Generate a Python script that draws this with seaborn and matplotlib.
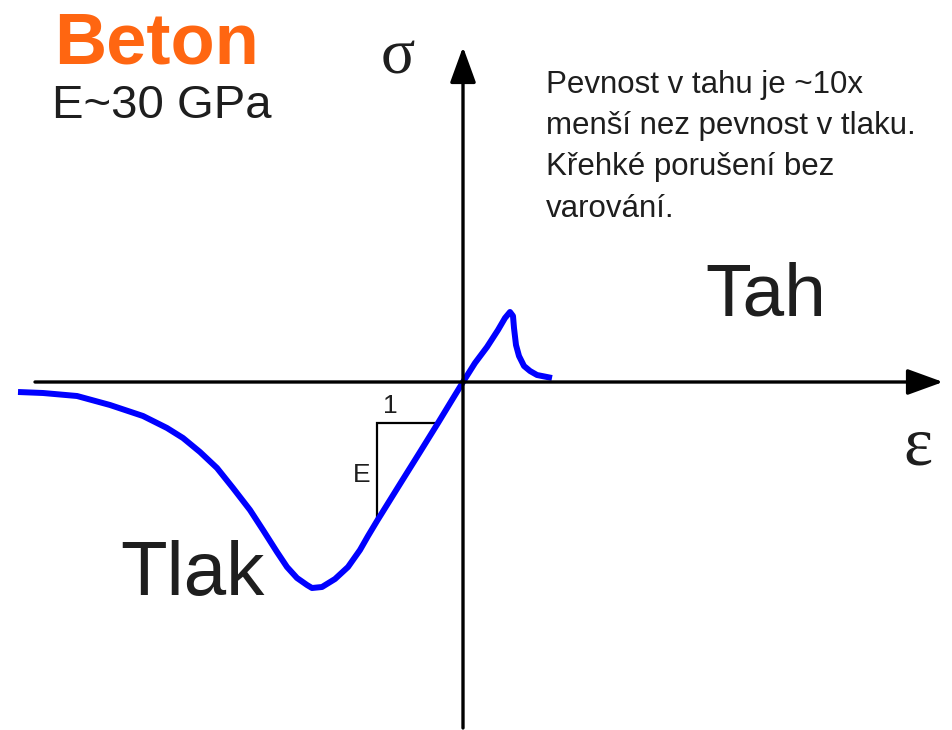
import numpy as np
import pandas as pd
import seaborn as sns
import matplotlib.pyplot as plt

# stress-strain curve of concrete (arbitrary units, origin at axes cross)
eps = [-4.45, -4.20, -3.86, -3.53, -3.20, -2.96, -2.80, -2.63, -2.46, -2.30,
       -2.13, -2.00, -1.86, -1.76, -1.66, -1.56, -1.51, -1.41, -1.28, -1.15,
       -1.03, -0.95, -0.86, -0.63, -0.43, -0.25, -0.11, 0.0, 0.12, 0.24, 0.35,
       0.42, 0.47, 0.50, 0.51, 0.53, 0.56, 0.61, 0.67, 0.74, 0.89]
sigma = [-0.10, -0.11, -0.14, -0.23, -0.34, -0.46, -0.56, -0.70, -0.86, -1.06,
         -1.28, -1.48, -1.70, -1.85, -1.96, -2.03, -2.06, -2.05, -1.97, -1.85,
         -1.68, -1.54, -1.39, -1.02, -0.70, -0.41, -0.18, 0.0, 0.19, 0.35, 0.52,
         0.64, 0.70, 0.66, 0.54, 0.37, 0.26, 0.16, 0.11, 0.07, 0.04]

# slope triangle (1 : E)
tri_x = [-0.25, -0.86, -0.86]
tri_y = [-0.41, -0.41, -1.38]

title = "Beton"
subtitle = "E~30 GPa"
note = "Pevnost v tahu je ~10x\nmenší nez pevnost v tlaku.\nKřehké porušení bez\nvarování."

df = pd.DataFrame({"eps": eps, "sigma": sigma})

sns.set_style("white")
plt.rcParams['font.family'] = ['Liberation Sans', 'DejaVu Sans']

fig = plt.figure(figsize=(9.52, 7.3), dpi=100)
ax = fig.add_axes([0, 0, 1, 1])
ax.set_xlim(-4.63, 4.89)
ax.set_ylim(-3.48, 3.82)
ax.axis("off")

txt = "#1e1e1e"
serif = ['Liberation Serif', 'DejaVu Serif']

# axes with arrows
arr = dict(arrowstyle='-|>,head_length=1.1,head_width=0.4', mutation_scale=20,
           lw=2.4, color='black', shrinkA=0, shrinkB=0)
ax.annotate("", xy=(4.80, 0), xytext=(-4.28, 0), arrowprops=arr)
ax.annotate("", xy=(0, 3.35), xytext=(0, -3.46), arrowprops=arr)

# triangle
ax.plot(tri_x, tri_y, color='black', lw=1.6, solid_joinstyle='miter')

# curve
sns.lineplot(data=df, x="eps", y="sigma", sort=False, color="#0000ff",
             lw=4.3, ax=ax, solid_capstyle='butt', solid_joinstyle='round')

ax.text(-0.73, -0.24, "1", fontsize=19, color=txt, ha='center', va='center')
ax.text(-1.01, -0.93, "E", fontsize=19, color=txt, ha='center', va='center')

ax.text(-4.09, 3.19, title, fontsize=52, fontweight='bold', color='#ff6611',
        ha='left', va='baseline')
ax.text(-4.11, 2.64, subtitle, fontsize=34, color=txt, ha='left', va='baseline')

ax.text(-0.65, 3.23, "σ", fontsize=46, color=txt, ha='center', va='center',
        family=serif)
ax.text(4.55, -0.66, "ε", fontsize=50, color=txt, ha='center', va='center',
        family=serif)

# multiline baseline aligns the last line
ax.text(0.83, 1.65, note, fontsize=22.5, color=txt, ha='left', va='baseline',
        linespacing=1.5)

ax.text(2.42, 0.67, "Tah", fontsize=54, color=txt, ha='left', va='baseline')
ax.text(-3.43, -2.13, "Tlak", fontsize=55, color=txt, ha='left', va='baseline')

fig.savefig("out.png", dpi=100)
